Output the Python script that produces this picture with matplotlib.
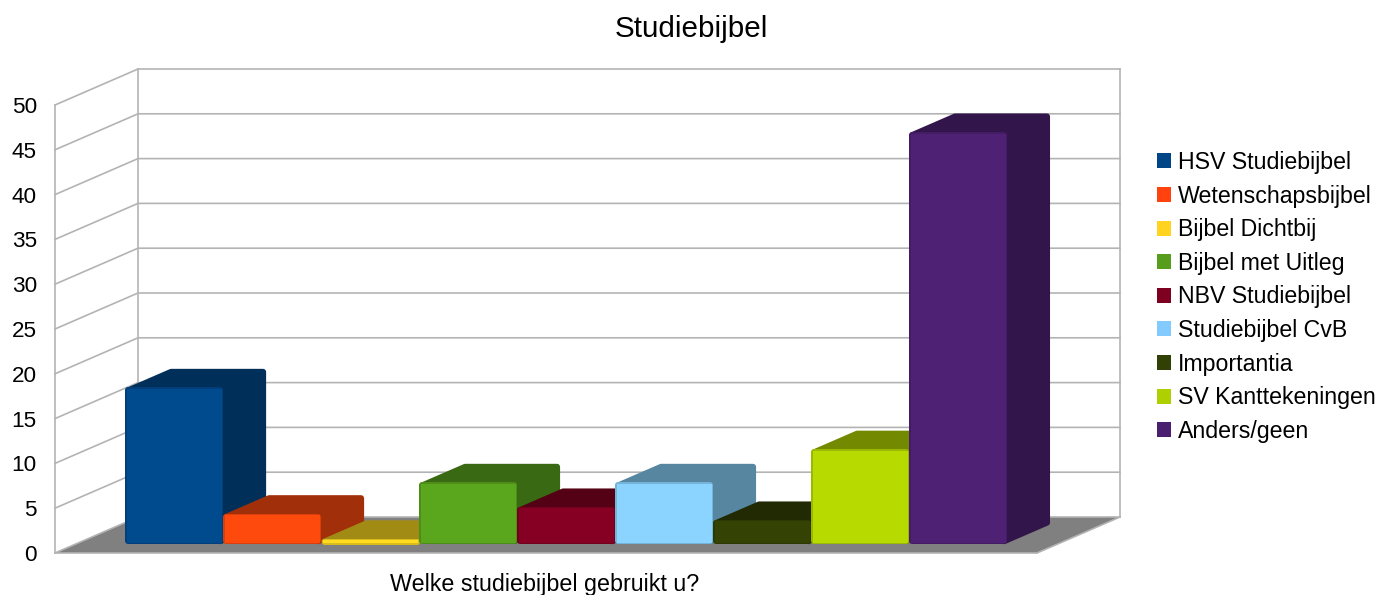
import numpy as np
import matplotlib
matplotlib.use("Agg")
import matplotlib.pyplot as plt
from matplotlib.patches import Patch
from matplotlib.colors import to_rgb

series_names = ["HSV Studiebijbel", "Wetenschapsbijbel", "Bijbel Dichtbij", "Bijbel met Uitleg",
                "NBV Studiebijbel", "Studiebijbel CvB", "Importantia", "SV Kanttekeningen", "Anders/geen"]
series_values = [17.5, 3.4, 0.6, 6.9, 4.15, 6.9, 2.7, 10.6, 46.0]
legend_colors = ["#004586", "#ff420e", "#ffd320", "#579d1c", "#7e0021", "#83caff", "#314004", "#aecf00", "#4b1f6f"]
front_colors = ["#004a8e", "#ff4a0e", "#ffdc20", "#5aa61c", "#850022", "#8ad4ff", "#344304", "#b7da00", "#4f2175"]
value_ticks = [0, 5, 10, 15, 20, 25, 30, 35, 40, 45, 50]
title = "Studiebijbel"
x_label = "Welke studiebijbel gebruikt u?"

plt.rcParams["font.family"] = ["Liberation Sans", "DejaVu Sans"]
DPI = 100
W, H = 1380, 595
PX = 72 / DPI
GRID = "#b3b3b3"
TEXT = "#000000"

fig = plt.figure(figsize=(W / DPI, H / DPI), dpi=DPI)
ax = fig.add_axes([55 / W, (H - 553) / H, 982 / W, 448 / H])
UNIT_X = 97.9
MARGIN = 50 / UNIT_X
n = len(series_values)
ax.set_xlim(-0.5 - MARGIN, n - 0.5 + MARGIN)
ax.set_ylim(0, 50)
for s in ax.spines.values():
    s.set_visible(False)
ax.set_xticks([])
ax.set_yticks(value_ticks)
ax.tick_params(axis="y", length=0, pad=18 * PX, labelsize=16.2, labelcolor=TEXT)
ax.patch.set_visible(False)

xscale = (ax.get_xlim()[1] - ax.get_xlim()[0]) / 982
yscale = 50 / 448
DEPTH_X = 83 * xscale
DEPTH_Y = 36 * yscale


def proj(x, v, d):
    return x + d * DEPTH_X, v + d * DEPTH_Y


x0, x1 = ax.get_xlim()
# floor
fl = [proj(x0, 0, 0), proj(x0, 0, 1), proj(x1, 0, 1), proj(x1, 0, 0)]
ax.fill(*zip(*fl), color="#808080", lw=0, zorder=1, clip_on=False)
# gridlines and walls
line_kw = dict(color=GRID, lw=1.5 * PX * 1.1, clip_on=False, solid_capstyle="projecting", zorder=2)
for v in value_ticks:
    a, b, c = proj(x0, v, 0), proj(x0, v, 1), proj(x1, v, 1)
    ax.plot([a[0], b[0], c[0]], [a[1], b[1], c[1]], **line_kw)
for d in (0, 1):
    a, b = proj(x0, 0, d), proj(x0, 50, d)
    ax.plot([a[0], b[0]], [a[1], b[1]], **line_kw)
a, b = proj(x1, 0, 1), proj(x1, 50, 1)
ax.plot([a[0], b[0]], [a[1], b[1]], **line_kw)
a, b = proj(x0, 0, 0), proj(x1, 0, 0)
ax.plot([a[0], b[0]], [a[1], b[1]], **line_kw)
a, b = proj(x1, 0, 0), proj(x1, 0, 1)
ax.plot([a[0], b[0]], [a[1], b[1]], **line_kw)

# bars
D_FRONT = 0.245
D_BACK = 0.76
R_MAX = 3.0
INNER = 1.5
xs = np.arange(n)
fx, fy = proj(0, 0, D_FRONT)


def shade(col, f):
    return tuple(c * f for c in to_rgb(col))


z = 3
for i, (v, col) in enumerate(zip(series_values, front_colors)):
    left, right = xs[i] - 0.5, xs[i] + 0.5
    R = min(R_MAX, v / yscale / 2 - 0.2)
    rx, ry = R * xscale, R * yscale
    side = shade(col, 0.63)
    pts = [proj(left + rx, v - ry, D_FRONT), proj(left + rx, v - ry, D_BACK),
           proj(right - rx, v - ry, D_BACK), proj(right - rx, ry, D_BACK),
           proj(right - rx, ry, D_FRONT)]
    ax.fill(*zip(*pts), facecolor=side, edgecolor=side, lw=2 * R * PX, joinstyle="round",
            zorder=z, clip_on=False)
    rim = shade(col, 0.85)
    ax.bar(xs[i] + fx, v - 2 * ry, width=1 - 2 * rx, bottom=fy + ry, color=rim,
           edgecolor=rim, linewidth=2 * R * PX, joinstyle="round", zorder=z + 1, clip_on=False)
    ix, iy = INNER * xscale, INNER * yscale
    ax.bar(xs[i] + fx, v - 2 * iy, width=1 - 2 * ix, bottom=fy + iy, color=col, linewidth=0,
           zorder=z + 2, clip_on=False)
    z += 3

# legend
handles = [Patch(facecolor=c, edgecolor="none", label=l) for c, l in zip(legend_colors, series_names)]
leg = fig.legend(handles=handles, loc="upper left", bbox_to_anchor=(1157 / W, 1 - 151 / H), frameon=False,
                 fontsize=16.7, handlelength=0.62, handleheight=0.62, handletextpad=0.27,
                 labelspacing=0.457, borderpad=0, borderaxespad=0, labelcolor=TEXT)

fig.text(691 / W, 1 - 29 / H, title, ha="center", va="center", fontsize=21.3, color=TEXT)
fig.text(544.5 / W, 1 - 584 / H, x_label, ha="center", va="center", fontsize=16.75, color=TEXT)

fig.savefig("out.png", dpi=DPI, facecolor="white")
